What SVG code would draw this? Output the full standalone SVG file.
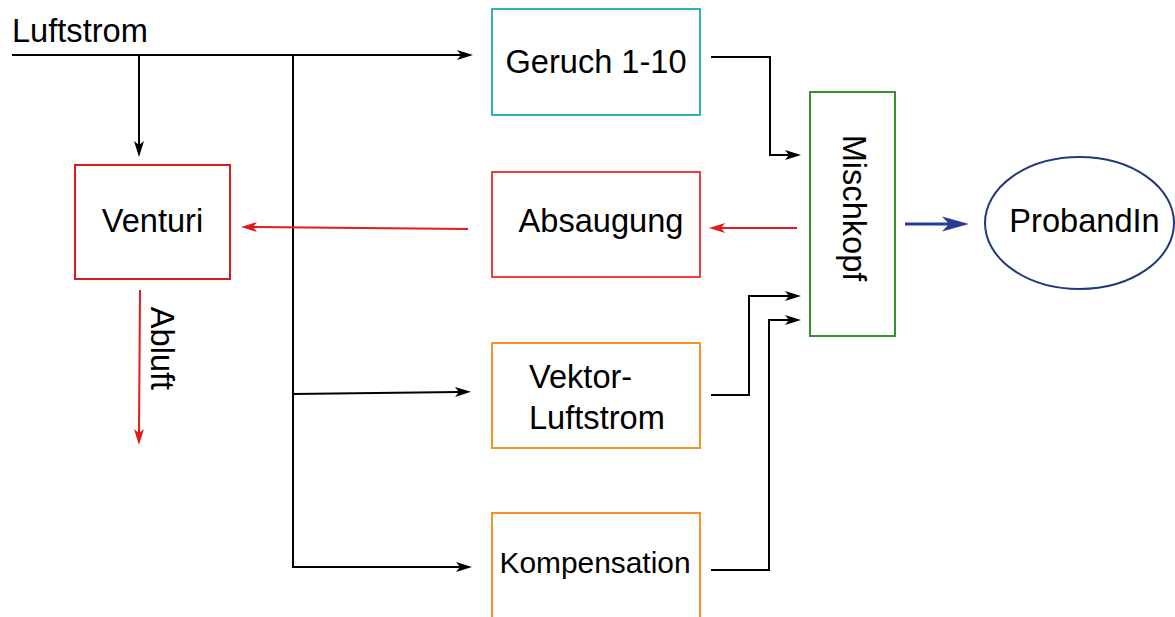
<svg xmlns="http://www.w3.org/2000/svg" width="1175" height="617" viewBox="0 0 1175 617">
  <style>
    .lbl { font-family: "Liberation Sans", Arial, sans-serif; font-size: 32.6px; fill: #000; }
    .box { fill: #fff; stroke-width: 2; }
    .wire { fill: none; stroke: #000; stroke-width: 2; }
    .wire-red { fill: none; stroke: #E01B1B; stroke-width: 2; }
    .wire-blue { fill: none; stroke: #2B3A99; stroke-width: 3; }
  </style>
  <defs>
    <!-- classic notched arrowheads; refX sits on the notch so the shaft ends there -->
    <marker id="arrow" markerUnits="userSpaceOnUse" markerWidth="20" markerHeight="14" viewBox="-1 -7 20 14" refX="4" refY="0" orient="auto" overflow="visible">
      <path d="M0,-5 L16,0 L0,5 L4,0 Z" fill="#000"/>
    </marker>
    <marker id="arrow-red" markerUnits="userSpaceOnUse" markerWidth="20" markerHeight="14" viewBox="-1 -7 20 14" refX="4" refY="0" orient="auto" overflow="visible">
      <path d="M0,-5 L16,0 L0,5 L4,0 Z" fill="#E01B1B"/>
    </marker>
    <marker id="arrow-blue" markerUnits="userSpaceOnUse" markerWidth="30" markerHeight="18" viewBox="-1 -9 30 18" refX="7" refY="0" orient="auto" overflow="visible">
      <path d="M0,-7.5 L27,0 L0,7.5 L7,0 Z" fill="#2B3A99"/>
    </marker>
  </defs>

  <!-- connectors -->
  <g id="connectors">
    <!-- main air supply line -->
    <path class="wire" d="M12,55 H461" marker-end="url(#arrow)"/>
    <path class="wire" d="M139,55 V145" marker-end="url(#arrow)"/>
    <path class="wire" d="M293,55 V567 H460" marker-end="url(#arrow)"/>
    <path class="wire" d="M293,394 L459,392" marker-end="url(#arrow)"/>
    <!-- into the mixing head -->
    <path class="wire" d="M711,57 H770 V155 H789" marker-end="url(#arrow)"/>
    <path class="wire" d="M711,395 H749 V296 H789" marker-end="url(#arrow)"/>
    <path class="wire" d="M711,570 H769 V320 H789" marker-end="url(#arrow)"/>
    <!-- extraction path -->
    <path class="wire-red" d="M797,228 H721" marker-end="url(#arrow-red)"/>
    <path class="wire-red" d="M468,229 L253,227" marker-end="url(#arrow-red)"/>
    <path class="wire-red" d="M140,290 L139,433" marker-end="url(#arrow-red)"/>
    <!-- to the test subject -->
    <path class="wire-blue" d="M905,224 H949" marker-end="url(#arrow-blue)"/>
  </g>

  <text class="lbl" x="12" y="42">Luftstrom</text>
  <text class="lbl" transform="translate(151,348.5) rotate(90)" text-anchor="middle">Abluft</text>

  <g id="venturi">
    <rect class="box" x="75" y="165" width="155" height="114" stroke="#DD1A1A"/>
    <text class="lbl" x="152.5" y="232" text-anchor="middle">Venturi</text>
  </g>

  <g id="geruch">
    <rect class="box" x="492" y="9" width="208" height="106" stroke="#2DB3B3"/>
    <text class="lbl" x="596" y="73" text-anchor="middle">Geruch 1-10</text>
  </g>

  <g id="absaugung">
    <rect class="box" x="492" y="172" width="208" height="105" stroke="#F03C3C"/>
    <text class="lbl" x="601" y="232" text-anchor="middle">Absaugung</text>
  </g>

  <g id="vektor-luftstrom">
    <rect class="box" x="492" y="343" width="208" height="105" stroke="#F5922A"/>
    <text class="lbl" x="529" y="388">Vektor-</text>
    <text class="lbl" x="529" y="429">Luftstrom</text>
  </g>

  <g id="kompensation">
    <rect class="box" x="492" y="513" width="208" height="120" stroke="#F5922A"/>
    <text class="lbl" x="595" y="573" text-anchor="middle" style="font-size:29.9px">Kompensation</text>
  </g>

  <g id="mischkopf">
    <rect class="box" x="810" y="92" width="85" height="244" stroke="#3A8F2E" stroke-width="1.5"/>
    <text class="lbl" transform="translate(843,208) rotate(90)" text-anchor="middle">Mischkopf</text>
  </g>

  <g id="probandin">
    <ellipse cx="1079.5" cy="223" rx="94.5" ry="66" fill="#fff" stroke="#1F3A7A" stroke-width="2"/>
    <text class="lbl" x="1084.5" y="232" text-anchor="middle">ProbandIn</text>
  </g>
</svg>
